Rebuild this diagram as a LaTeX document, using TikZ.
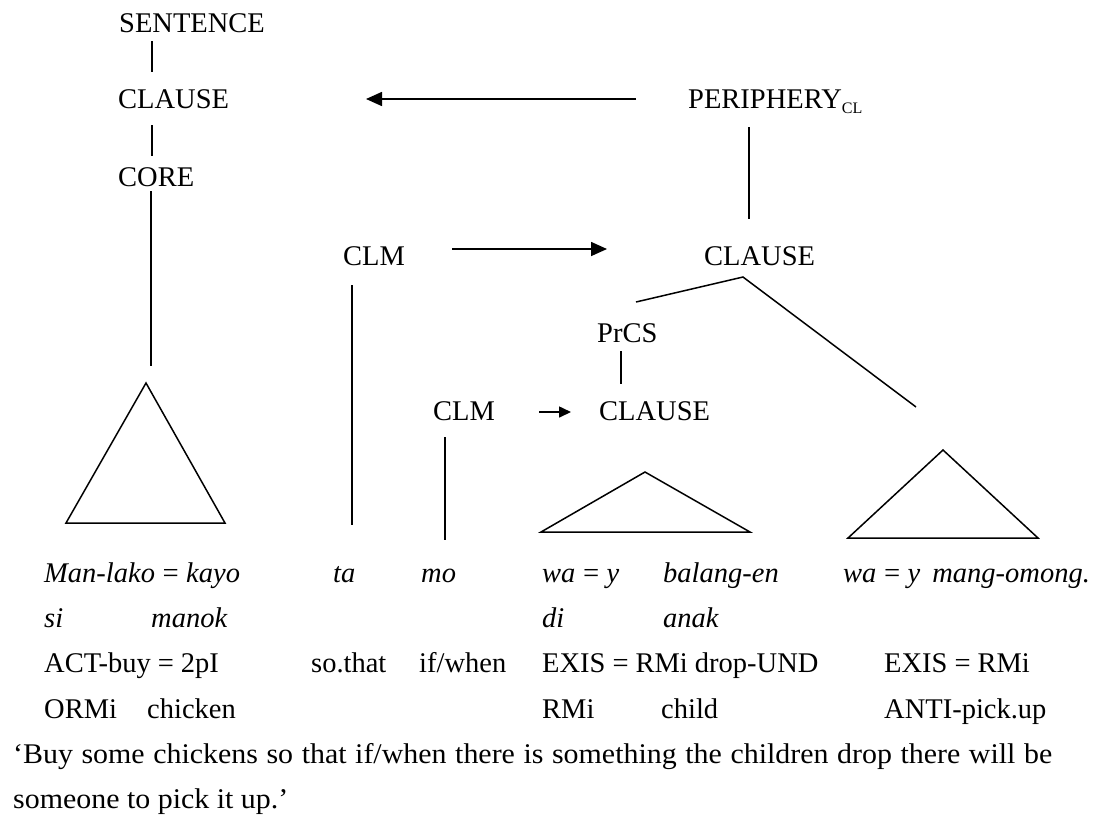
\documentclass[tikz,border=0pt]{standalone}
\usepackage{fontspec}
\setmainfont{Liberation Serif}
\usetikzlibrary{arrows.meta}
% clitic boundary sign with its surrounding space
\newcommand{\clit}{\hspace{7pt}=\hspace{7pt}}
\newcommand{\clitit}{\hspace{6pt}=\hspace{6pt}}
\begin{document}
\begin{tikzpicture}[x=1pt,y=-1pt,
  lbl/.style={anchor=base west, inner sep=0pt, font=\fontsize{28.5}{34}\selectfont},
  gl/.style={anchor=base west, inner sep=0pt, font=\fontsize{28.5}{34}\selectfont\itshape},
  branch/.style={draw, line width=1.5pt},
  tri/.style={draw, line width=1.5pt, line join=miter},
  mv/.style={draw, line width=1.6pt, -{Triangle[length=16pt,width=14pt]}},
  mvshort/.style={draw, line width=1.6pt, -{Triangle[length=12pt,width=11pt]}}]
\useasboundingbox (0,0) rectangle (1099,815);

% category labels
\node[lbl] (sent) at (119,32) {SENTENCE};
\node[lbl] (cl1)  at (118,108) {CLAUSE};
\node[lbl] (core) at (118,186) {CORE};
\node[lbl] (peri) at (688,108) {PERIPHERY\raisebox{-5pt}{\fontsize{16}{18}\selectfont CL}};
\node[lbl] (clm1) at (343,265) {CLM};
\node[lbl] (cl2)  at (704,265) {CLAUSE};
\node[lbl] (prcs) at (597,342) {PrCS};
\node[lbl] (clm2) at (433,420) {CLM};
\node[lbl] (cl3)  at (599,420) {CLAUSE};

% branch end points
\coordinate (sentB) at (152,41);  \coordinate (cl1T) at (152,72);
\coordinate (cl1B)  at (152,125); \coordinate (coreT) at (152,156);
\coordinate (coreB) at (151,191); \coordinate (triLtop) at (151,366);
\coordinate (periB) at (749,127); \coordinate (cl2T) at (749,219);
\coordinate (clm1B) at (352,285); \coordinate (clm1E) at (352,525);
\coordinate (cl2B)  at (743,277); \coordinate (prcsT) at (636,302);
\coordinate (triRtop) at (916,407);
\coordinate (prcsB) at (621,351); \coordinate (cl3T) at (621,384);
\coordinate (clm2B) at (445,437); \coordinate (clm2E) at (445,540);
\coordinate (periW) at (636,99);  \coordinate (cl1E) at (366,99);
\coordinate (clm1E2) at (452,249); \coordinate (cl2W) at (607,249);
\coordinate (clm2E2) at (539,412); \coordinate (cl3W) at (571,412);

% tree branches
\draw[branch] (sentB) -- (cl1T);
\draw[branch] (cl1B) -- (coreT);
\draw[branch] (coreB) -- (triLtop);
\draw[branch] (periB) -- (cl2T);
\draw[branch] (clm1B) -- (clm1E);
\draw[branch] (prcsT) -- (cl2B) -- (triRtop);
\draw[branch] (prcsB) -- (cl3T);
\draw[branch] (clm2B) -- (clm2E);

% linkage arrows
\draw[mv] (periW) -- (cl1E);
\draw[mv] (clm1E2) -- (cl2W);
\draw[mvshort] (clm2E2) -- (cl3W);

% abbreviation triangles
\draw[tri] (146,383) -- (66,523) -- (225,523) -- cycle;
\draw[tri] (645,472) -- (541,532) -- (750,532) -- cycle;
\draw[tri] (943,450) -- (848,538) -- (1038,538) -- cycle;

% interlinear text
\node[gl] (w1) at (44,582) {Man-lako\clitit kayo};
\node[gl] (w2) at (333,582) {ta};
\node[gl] (w3) at (421,582) {mo};
\node[gl] (w4) at (542,582) {wa\clitit y};
\node[gl] (w5) at (663,582) {balang-en};
\node[gl] (w6) at (843,582) {wa\clitit y\hspace{12pt}mang-omong.};
\node[gl] (w7) at (44,627) {si};
\node[gl] (w8) at (151,627) {manok};
\node[gl] (w9) at (542,627) {di};
\node[gl] (w10) at (663,627) {anak};

\node[lbl] (g1) at (44,672) {ACT-buy\clit 2pI};
\node[lbl] (g2) at (311,672) {so.that};
\node[lbl] (g3) at (419,672) {if/when};
\node[lbl] (g4) at (542,672) {EXIS\clit RMi drop-UND};
\node[lbl] (g5) at (884,672) {EXIS\clit RMi};
\node[lbl] (g6) at (44,718) {ORMi};
\node[lbl] (g7) at (147,718) {chicken};
\node[lbl] (g8) at (542,718) {RMi};
\node[lbl] (g9) at (661,718) {child};
\node[lbl] (g10) at (884,718) {ANTI-pick.up};

% free translation
\node[lbl] (tr1) at (13,763) {\scalebox{1.05}[1]{\makebox[989.5pt][s]{‘Buy some chickens so that if/when there is something the children drop there will be}}};
\node[lbl] (tr2) at (13,808) {\scalebox{1.05}[1]{someone to pick it up.’}};
\end{tikzpicture}
\end{document}
